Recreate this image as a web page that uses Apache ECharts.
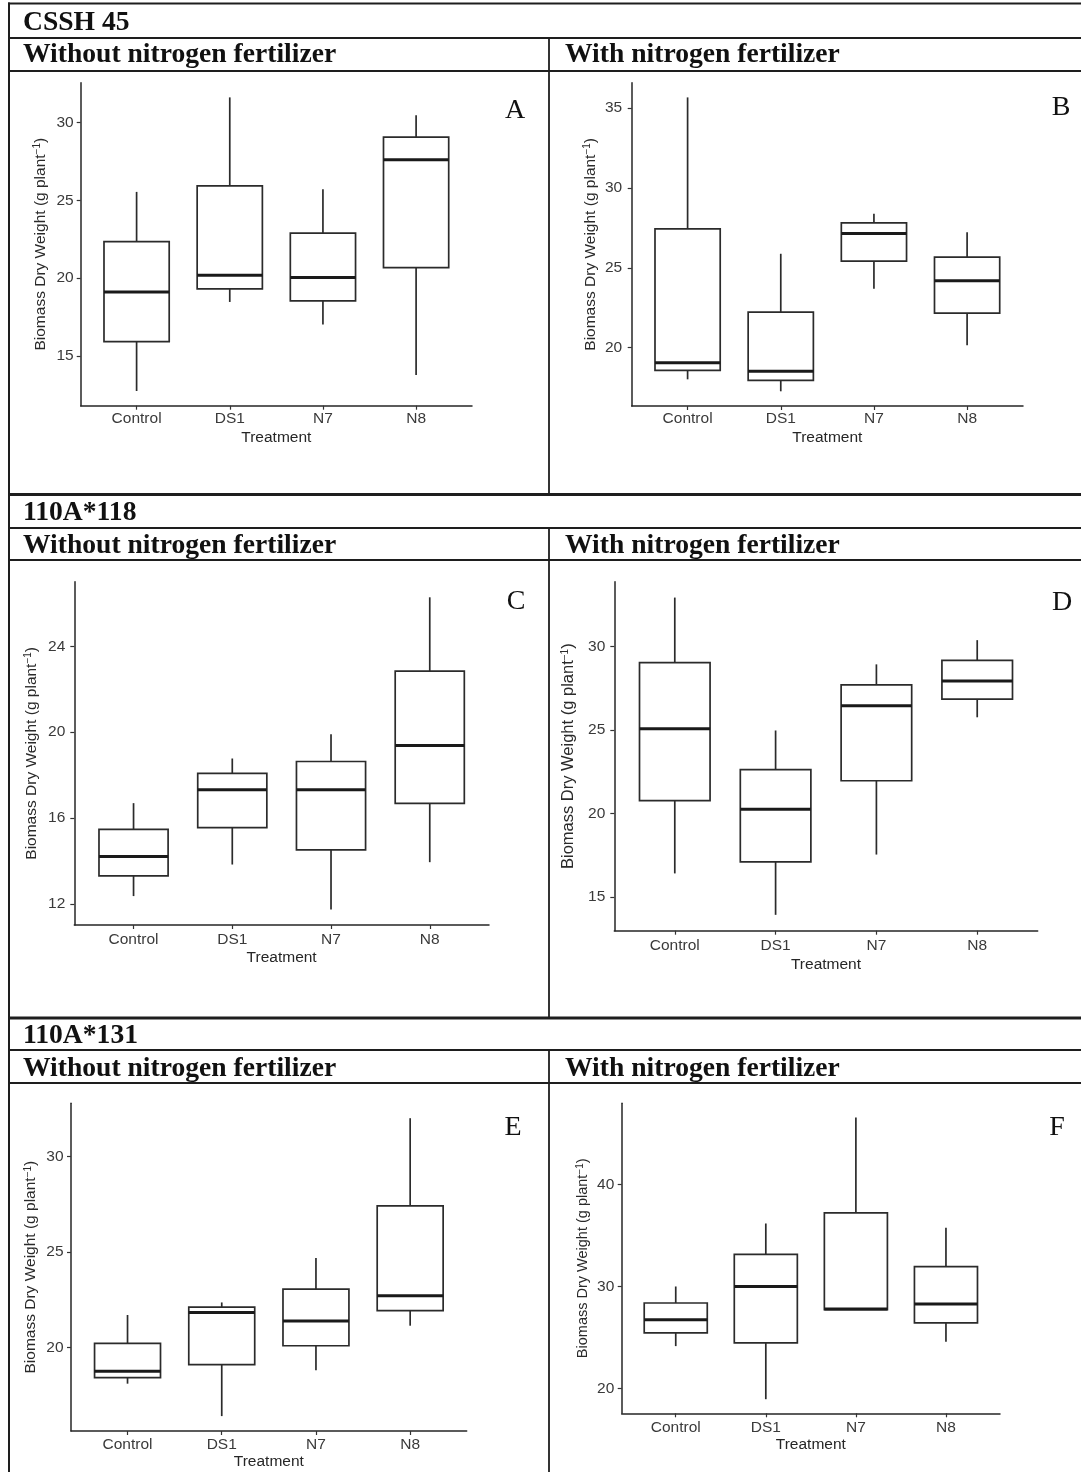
<!DOCTYPE html>
<html>
<head>
<meta charset="utf-8">
<script src="https://cdn.jsdelivr.net/npm/echarts@6/dist/echarts.min.js"></script>
<style>
  html, body { margin: 0; padding: 0; background: #fff; }
  #chart { width: 1081px; height: 1472px; }
</style>
</head>
<body>
<div id="chart"></div>
<script>
// Treatments on the x axis of every panel
const treatments = ['Control', 'DS1', 'N7', 'N8'];

// Biomass dry weight (g plant^-1), one row per treatment: [min, Q1, median, Q3, max]
const csshWithoutN = [
  [12.75, 15.92, 19.11, 22.35, 25.54],
  [18.47, 19.31, 20.19, 25.93, 31.61],
  [17.02, 18.54, 20.04, 22.89, 25.71],
  [13.78, 20.68, 27.60, 29.06, 30.47]
];
const csshWithN = [
  [18.02, 18.58, 19.06, 27.44, 35.67],
  [17.27, 17.96, 18.52, 22.23, 25.88],
  [23.69, 25.42, 27.15, 27.81, 28.38],
  [20.15, 22.17, 24.19, 25.67, 27.23]
];
const a118WithoutN = [
  [12.36, 13.30, 14.20, 15.47, 16.69],
  [13.83, 15.55, 17.31, 18.08, 18.77],
  [11.74, 14.51, 17.31, 18.63, 19.90],
  [13.94, 16.68, 19.37, 22.84, 26.28]
];
const a118WithN = [
  [16.41, 20.77, 25.07, 29.03, 32.93],
  [13.93, 17.10, 20.25, 22.63, 24.97],
  [17.54, 21.96, 26.45, 27.70, 28.93],
  [25.76, 26.85, 27.94, 29.17, 30.38]
];
const a131WithoutN = [
  [18.10, 18.42, 18.75, 20.21, 21.70],
  [16.40, 19.10, 21.83, 22.11, 22.36],
  [18.81, 20.09, 21.39, 23.06, 24.69],
  [21.14, 21.93, 22.71, 27.42, 32.02]
];
const a131WithN = [
  [24.16, 25.45, 26.75, 28.38, 30.00],
  [18.96, 24.48, 30.00, 33.15, 36.17],
  [27.73, 27.73, 27.79, 37.21, 46.56],
  [24.58, 26.43, 28.28, 31.95, 35.75]
];

// Y tick labels of each panel
const ticksA = [15, 20, 25, 30];
const ticksB = [20, 25, 30, 35];
const ticksC = [12, 16, 20, 24];
const ticksD = [15, 20, 25, 30];
const ticksE = [20, 25, 30];
const ticksF = [20, 30, 40];

// Section and column headings
const genotypes = ['CSSH 45', '110A*118', '110A*131'];
const columnTitles = ['Without nitrogen fertilizer', 'With nitrogen fertilizer'];
const panelLetters = ['A', 'B', 'C', 'D', 'E', 'F'];

const SANS = '"Liberation Sans", Arial, Helvetica, sans-serif';
const SERIF = '"Liberation Serif", "Times New Roman", serif';
const yTitle = 'Biomass Dry Weight (g plant{sup|\u22121})';

// Plot frames: grid box [left, top, width, height] plus label spacing
const panels = [
  { rows: csshWithoutN, ticks: ticksA, box: [80.7, 82.7, 391.3, 323], yMargin: 7, yGap: 32, xMargin: 5.5, xGap: 24, titleSize: 15.5, letterAt: [515, 111] },
  { rows: csshWithN,    ticks: ticksB, box: [631.7, 82.7, 391.3, 323.3], yMargin: 9.5, yGap: 33, xMargin: 5, xGap: 23.5, titleSize: 15.5, letterAt: [1061, 108] },
  { rows: a118WithoutN, ticks: ticksC, box: [74.3, 581.7, 414.7, 343.3], yMargin: 9, yGap: 35, xMargin: 6.3, xGap: 25, titleSize: 15.5, letterAt: [516, 602] },
  { rows: a118WithN,    ticks: ticksD, box: [614.3, 581.7, 423.4, 349], yMargin: 9, yGap: 37, xMargin: 7.3, xGap: 26, titleSize: 16.5, letterAt: [1062, 603] },
  { rows: a131WithoutN, ticks: ticksE, box: [71, 1103.3, 395.7, 327.7], yMargin: 7.5, yGap: 32, xMargin: 5.3, xGap: 22.5, titleSize: 15.5, letterAt: [513, 1128] },
  { rows: a131WithN,    ticks: ticksF, box: [621.7, 1103.3, 378.3, 310], yMargin: 7.4, yGap: 31, xMargin: 6.4, xGap: 22.7, titleSize: 14.5, letterAt: [1057, 1127.5] }
];

// ggplot-style continuous range: data extent expanded by 5% on each side
function expandedRange(rows) {
  let lo = Infinity, hi = -Infinity;
  rows.forEach(r => r.forEach(v => { lo = Math.min(lo, v); hi = Math.max(hi, v); }));
  const pad = (hi - lo) * 0.05;
  return [lo - pad, hi + pad];
}

const BOX_WIDTH = 0.7;     // in category units
const INK = '#2b2b2b';

// Box without whisker caps, thick median bar
function renderBox(params, api) {
  const x = api.value(0);
  const lo = api.coord([x, api.value(1)]);
  const q1 = api.coord([x, api.value(2)]);
  const md = api.coord([x, api.value(3)]);
  const q3 = api.coord([x, api.value(4)]);
  const hi = api.coord([x, api.value(5)]);
  const half = api.size([BOX_WIDTH, 0])[0] / 2;
  const cx = md[0];
  const thin = { stroke: INK, lineWidth: 1.7, fill: null };
  return {
    type: 'group',
    children: [
      { type: 'line', shape: { x1: cx, y1: hi[1], x2: cx, y2: q3[1] }, style: thin },
      { type: 'line', shape: { x1: cx, y1: q1[1], x2: cx, y2: lo[1] }, style: thin },
      { type: 'rect', shape: { x: cx - half, y: q3[1], width: half * 2, height: q1[1] - q3[1] },
        style: { stroke: INK, lineWidth: 1.7, fill: '#ffffff' } },
      { type: 'line', shape: { x1: cx - half, y1: md[1], x2: cx + half, y2: md[1] },
        style: { stroke: '#1a1a1a', lineWidth: 3 } }
    ]
  };
}

const catIdx = treatments.map((_, i) => i);

const grids = panels.map(p => ({ left: p.box[0], top: p.box[1], width: p.box[2], height: p.box[3] }));

const xAxes = panels.map((p, i) => ({
  gridIndex: i,
  type: 'value',
  min: -0.6,
  max: treatments.length - 1 + 0.6,
  name: 'Treatment',
  nameLocation: 'middle',
  nameGap: p.xGap,
  nameTextStyle: { fontFamily: SANS, fontSize: 15.5, color: '#262626' },
  axisLine: { show: true, onZero: false, lineStyle: { color: '#262626', width: 1.5 } },
  axisTick: { show: true, customValues: catIdx, length: 4, lineStyle: { color: '#333', width: 1.2 } },
  axisLabel: {
    customValues: catIdx,
    formatter: v => treatments[Math.round(v)],
    margin: p.xMargin,
    fontFamily: SANS, fontSize: 15.5, color: '#3a3a3a'
  },
  splitLine: { show: false }
}));

const yAxes = panels.map((p, i) => {
  const r = expandedRange(p.rows);
  return {
    gridIndex: i,
    type: 'value',
    min: r[0],
    max: r[1],
    name: yTitle,
    nameLocation: 'middle',
    nameGap: p.yGap,
    nameTextStyle: {
      fontFamily: SANS, fontSize: p.titleSize, color: '#2a2a2a',
      rich: { sup: { fontFamily: SANS, fontSize: 10, color: '#2a2a2a', verticalAlign: 'top', padding: [0, 0, 5, 0] } }
    },
    axisLine: { show: true, onZero: false, lineStyle: { color: '#262626', width: 1.5 } },
    axisTick: { show: true, customValues: p.ticks, length: 4, lineStyle: { color: '#333', width: 1.2 } },
    axisLabel: {
      customValues: p.ticks,
      margin: p.yMargin,
      fontFamily: SANS, fontSize: 15.5, color: '#3a3a3a'
    },
    splitLine: { show: false }
  };
});

const series = panels.map((p, i) => ({
  type: 'custom',
  xAxisIndex: i,
  yAxisIndex: i,
  clip: false,
  silent: true,
  encode: { x: 0, y: [1, 2, 3, 4, 5] },
  data: p.rows.map((r, k) => [k].concat(r)),
  renderItem: renderBox
}));

// Table frame around the panels
const RULE = '#1e1e1e';
function hLine(y, w) {
  return { type: 'line', shape: { x1: 8, y1: y, x2: 1081, y2: y }, style: { stroke: RULE, lineWidth: w }, z: 10 };
}
function vLine(x, y1, y2, w) {
  return { type: 'line', shape: { x1: x, y1: y1, x2: x, y2: y2 }, style: { stroke: RULE, lineWidth: w }, z: 10 };
}
function heading(text, x, y, weight, size) {
  return {
    type: 'text', z: 11,
    style: {
      text: text, x: x, y: y,
      font: weight + ' ' + size + 'px ' + SERIF,
      fill: '#111',
      align: 'left', textAlign: 'left',
      verticalAlign: 'middle', textVerticalAlign: 'middle'
    }
  };
}

const sectionTops = [3.5, 494.5, 1018];
const titleRows = [[22.5, 54.5], [512.5, 545.5], [1035.5, 1068.5]];
const colRules = [[38, 71], [528, 560], [1050, 1083]];
const sectionEnds = [494.5, 1018, 1472];

const graphics = [];
sectionTops.forEach((y, s) => {
  graphics.push(hLine(y, s === 0 ? 2.2 : 2.8));
  graphics.push(hLine(colRules[s][0], 1.8));
  graphics.push(hLine(colRules[s][1], 2));
  graphics.push(vLine(549, colRules[s][0], sectionEnds[s], 1.8));
  graphics.push(heading(genotypes[s], 23, titleRows[s][0], 'bold', 27.6));
  graphics.push(heading(columnTitles[0], 23, titleRows[s][1], 'bold', 27.6));
  graphics.push(heading(columnTitles[1], 565, titleRows[s][1], 'bold', 27.6));
});
graphics.push(vLine(9, 2.5, 1472, 2));
panels.forEach((p, i) => {
  graphics.push({
    type: 'text', z: 11,
    style: {
      text: panelLetters[i], x: p.letterAt[0], y: p.letterAt[1],
      font: 'normal 28px ' + SERIF, fill: '#111',
      align: 'center', textAlign: 'center',
      verticalAlign: 'middle', textVerticalAlign: 'middle'
    }
  });
});

const chart = echarts.init(document.getElementById('chart'), null, { renderer: 'canvas' });
chart.setOption({
  animation: false,
  backgroundColor: '#ffffff',
  grid: grids,
  xAxis: xAxes,
  yAxis: yAxes,
  series: series,
  graphic: { elements: graphics }
});
</script>
</body>
</html>
